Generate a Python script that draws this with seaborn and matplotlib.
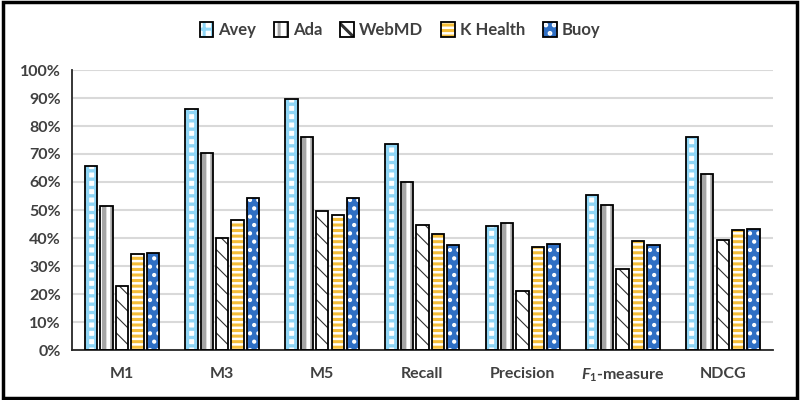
import pandas as pd
import numpy as np
import matplotlib
matplotlib.use("Agg")
import matplotlib.pyplot as plt
import seaborn as sns
from matplotlib.patches import Patch, Rectangle
from matplotlib.legend_handler import HandlerTuple

# values (fractions)
metrics = ["M1", "M3", "M5", "Recall", "Precision", r"$F_1$-measure", "NDCG"]
systems = ["Avey", "Ada", "WebMD", "K Health", "Buoy"]
avey = [0.656, 0.862, 0.895, 0.736, 0.443, 0.552, 0.762]
ada = [0.514, 0.705, 0.760, 0.600, 0.452, 0.517, 0.629]
webmd = [0.229, 0.400, 0.498, 0.448, 0.212, 0.288, 0.393]
khealth = [0.343, 0.464, 0.483, 0.414, 0.367, 0.390, 0.429]
buoy = [0.348, 0.544, 0.543, 0.374, 0.380, 0.376, 0.431]
yticks = np.arange(0, 1.01, 0.1)

# face, hatch colour, hatch, hatch linewidth
styles = {
    "Avey": ("white", "#8fd6f6", "++", 2.4),
    "Ada": ("white", "#a6a6a6", "||", 3.2),
    "WebMD": ("white", "#303030", "\\\\", 0.8),
    "K Health": ("white", "#f4bd38", "---", 2.2),
    "Buoy": ("#2f6fc4", "white", "..", 1.8),
}

df = pd.DataFrame({"metric": metrics * 5,
                   "system": np.repeat(systems, len(metrics)),
                   "score": avey + ada + webmd + khealth + buoy})

sns.set_style("white")
plt.rcParams["font.family"] = ["Lato", "DejaVu Sans"]
plt.rcParams["font.weight"] = "bold"
plt.rcParams["mathtext.fontset"] = "custom"
plt.rcParams["mathtext.it"] = "Lato:italic:bold"
plt.rcParams["mathtext.rm"] = "Lato:bold"
plt.rcParams["hatch.linewidth"] = 2.2

fig = plt.figure(figsize=(8, 4), dpi=100)
ax = fig.add_axes([0.09, 0.125, 0.876, 0.70])

sns.barplot(data=df, x="metric", y="score", hue="system", hue_order=systems,
            width=0.77, gap=0.2, legend=False, ax=ax, errorbar=None)


def style_patch(p, name):
    face, hcol, hatch, hlw = styles[name]
    p.set_facecolor(face)
    p.set_edgecolor(hcol)
    p.set_hatch(hatch)
    p.set_linewidth(0)
    if hasattr(p, "set_hatch_linewidth"):
        p.set_hatch_linewidth(hlw)


for cont, name in zip(ax.containers, systems):
    for bar in cont:
        style_patch(bar, name)
        ax.add_patch(Rectangle(bar.get_xy(), bar.get_width(), bar.get_height(),
                               fill=False, edgecolor="black", linewidth=1.3, zorder=3))

ax.set_ylim(0, 1.0)
ax.set_yticks(yticks)
ax.set_yticklabels([f"{int(round(t*100))}%" for t in yticks])
ax.set_xlim(-0.5, len(metrics) - 0.5)
ax.set_xlabel("")
ax.set_ylabel("")
ax.yaxis.grid(True, color="#d9d9d9", linewidth=1.5)
ax.set_axisbelow(True)
for s in ["top", "right"]:
    ax.spines[s].set_visible(False)
ax.spines["left"].set_color("#262626")
ax.spines["bottom"].set_color("#262626")
ax.spines["left"].set_linewidth(1.3)
ax.spines["bottom"].set_linewidth(1.3)
ax.tick_params(axis="both", length=0, labelsize=11.5, labelcolor="#404040", pad=8)
ax.tick_params(axis="x", pad=12)

handles = []
for name in systems:
    h = Patch()
    style_patch(h, name)
    handles.append((h, Patch(fill=False, edgecolor="black", linewidth=1.3)))
leg = fig.legend(handles, systems, loc="center", bbox_to_anchor=(0.5, 0.925), ncol=5,
                 frameon=False, fontsize=12, handlelength=0.8, handleheight=1.0,
                 handletextpad=0.3, columnspacing=1.1,
                 handler_map={tuple: HandlerTuple(ndivide=1, pad=0)})
for t in leg.get_texts():
    t.set_color("#404040")

fig.patches.append(Rectangle((0.004, 0.005), 0.992, 0.99, transform=fig.transFigure,
                             fill=False, edgecolor="black", linewidth=2.5))

fig.savefig("out.png", dpi=100)
